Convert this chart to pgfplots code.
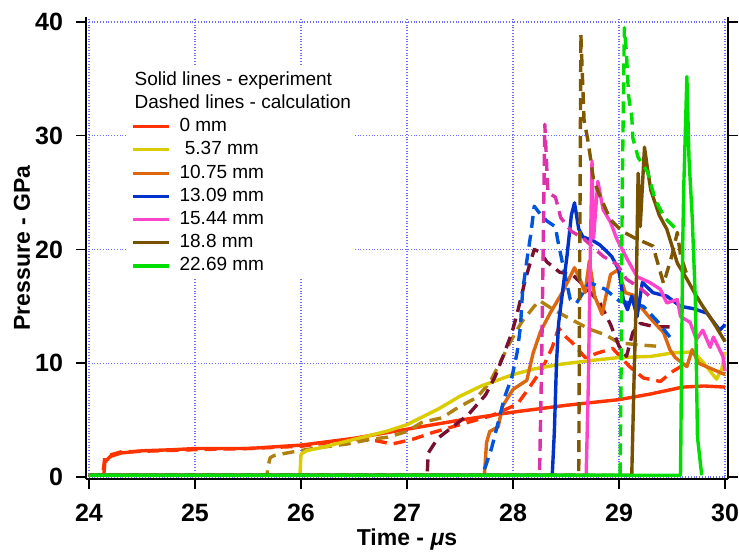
\documentclass[border=0pt]{standalone}
\usepackage{pgfplots}
\pgfplotsset{compat=1.18}
\usepackage{fontspec}
\setmainfont{Liberation Sans}

\definecolor{cRed}{RGB}{255,51,0}
\definecolor{cYel}{RGB}{218,204,0}
\definecolor{cOra}{RGB}{221,102,17}
\definecolor{cBlu}{RGB}{0,51,204}
\definecolor{cPnk}{RGB}{255,68,204}
\definecolor{cBrn}{RGB}{119,80,0}
\definecolor{cGrn}{RGB}{0,221,0}
\definecolor{dOli}{RGB}{176,128,16}
\definecolor{dMar}{RGB}{122,16,48}
\definecolor{dBlu}{RGB}{0,85,221}
\definecolor{dPnk}{RGB}{221,51,170}
\definecolor{dBrn}{RGB}{128,88,0}
\definecolor{gridblue}{RGB}{110,110,255}

\begin{document}
\begin{tikzpicture}
\begin{axis}[
    scale only axis,
    width=321pt, height=231pt,
    xmin=23.972, xmax=30.028,
    ymin=-0.18, ymax=40.44,
    axis x line=bottom, axis y line=box,
    axis line style={black, line width=0.75pt, -},
    xtick={24,25,...,30}, ytick={0,10,...,40},
    tick align=outside, major tick length=5pt,
    tick style={black, line width=0.75pt},
    grid=major,
    major grid style={densely dotted, gridblue, line width=0.6pt},
    /pgf/number format/assume math mode=true,
    tick label style={font=\bfseries\fontsize{12.5}{14}\selectfont},
    xticklabel style={yshift=-4pt},
    yticklabel style={xshift=-3pt},
    every axis y label/.style={at={(axis description cs:0,0.5)}, xshift=-32pt, rotate=90, anchor=center},
    every axis x label/.style={at={(axis description cs:0.5,0)}, yshift=-30.5pt, anchor=center},
    label style={font=\bfseries\fontsize{11.5}{14}\selectfont},
    xlabel={Time - {\itshape μ}s},
    ylabel={Pressure - GPa},
    every axis plot/.append style={line width=1.7pt, line join=round},
    legend image code/.code={\draw[line width=1.6pt] (0pt,0pt) -- (18pt,0pt);},
    legend cell align=left,
    legend style={at={(0.0654,0.892)}, anchor=north west, draw=none, fill=white,
        inner sep=1.5pt, row sep=1.6pt, column sep=4.5pt,
        font=\fontsize{9.5}{11}\selectfont,
        nodes={inner sep=0pt, text height=7.5pt, text depth=2.5pt}},
]
\addlegendimage{empty legend}
\addlegendentry{\hspace{-22.5pt}Solid lines - experiment}
\addlegendimage{empty legend}
\addlegendentry{\hspace{-22.5pt}Dashed lines - calculation}

% 0 mm
\addplot[cRed, forget plot, dash pattern=on 6pt off 3.5pt] coordinates {
(24.0,0.15)(24.13,0.15)(24.15,1.8)(24.3,2.2)(25.0,2.4)(25.5,2.5)(26.0,2.7)(26.5,3.3)
(26.7,3.2)(26.86,2.9)(27.05,3.3)(27.24,3.9)(27.5,4.6)(27.8,5.4)(28.04,6.4)(28.15,7.8)
(28.28,9.6)(28.37,11.4)(28.43,13.1)(28.5,12.3)(28.56,11.8)(28.68,10.5)(28.8,10.9)
(28.94,11.3)(29.1,9.7)(29.23,8.7)(29.39,8.4)(29.51,9.3)(29.6,9.8)};
\addplot[cRed] coordinates {
(24.0,0.15)(24.14,0.15)(24.15,1.3)(24.2,1.8)(24.3,2.1)(24.5,2.3)(24.8,2.4)(25.0,2.5)
(25.5,2.5)(26.0,2.8)(26.5,3.4)(27.0,4.2)(27.5,5.0)(28.0,5.7)(28.5,6.3)(29.0,6.8)
(29.3,7.3)(29.6,7.9)(29.8,8.0)(30.0,7.9)};
\addlegendentry{0 mm}

% 5.37 mm
\addplot[dOli, forget plot, dash pattern=on 6pt off 3.5pt] coordinates {
(24.0,0.15)(25.68,0.15)(25.69,1.0)(25.71,1.7)(25.75,1.9)(25.92,2.2)(26.11,2.5)(26.27,2.7)
(26.44,2.9)(26.65,3.3)(26.82,3.5)(27.0,4.0)(27.14,4.8)(27.33,5.2)(27.48,6.1)(27.66,7.0)
(27.78,8.3)(27.88,10.1)(27.97,11.8)(28.08,13.6)(28.2,15.0)(28.25,15.5)(28.4,14.6)
(28.56,13.8)(28.72,13.0)(28.87,12.5)(29.0,11.8)(29.2,11.6)(29.35,11.5)};
\addplot[cYel] coordinates {
(24.0,0.15)(25.99,0.15)(26.0,2.0)(26.05,2.3)(26.2,2.6)(26.5,3.3)(26.8,4.0)(27.0,4.6)
(27.3,6.0)(27.5,7.1)(27.7,8.0)(28.0,9.0)(28.2,9.5)(28.44,9.9)(28.7,10.2)(29.0,10.5)
(29.3,10.6)(29.5,10.9)(29.7,11.0)(29.8,10.0)(29.92,8.6)(29.97,9.5)(30.0,11.0)};
\addlegendentry{\ 5.37 mm}

% 10.75 mm
\addplot[dMar, forget plot, dash pattern=on 6pt off 3.5pt] coordinates {
(24.0,0.15)(27.19,0.15)(27.2,2.1)(27.29,3.4)(27.43,4.4)(27.58,5.5)(27.74,7.2)(27.83,8.8)
(27.91,10.7)(27.99,12.7)(28.04,14.4)(28.12,17.5)(28.2,20.0)(28.25,19.8)(28.32,18.9)
(28.44,18.0)(28.56,17.8)(28.7,16.5)(28.82,15.3)(28.92,13.4)(29.0,11.5)(29.07,10.6)
(29.13,12.7)(29.2,13.5)(29.34,13.2)(29.51,13.2)};
\addplot[cOra] coordinates {
(24.0,0.15)(27.73,0.15)(27.75,3.0)(27.78,4.0)(27.86,4.4)(27.9,6.2)(28.0,7.7)(28.13,8.5)
(28.19,10.9)(28.26,12.8)(28.35,14.4)(28.47,16.3)(28.58,18.4)(28.63,17.4)(28.68,16.2)
(28.72,19.0)(28.77,15.9)(28.84,14.3)(28.92,17.8)(28.99,18.2)(29.06,16.2)(29.13,16.0)
(29.2,15.0)(29.29,14.0)(29.42,12.7)(29.48,11.2)(29.53,10.5)(29.64,9.7)(29.69,11.2)
(29.75,10.0)(29.85,9.6)(30.0,9.0)};
\addlegendentry{10.75 mm}

% 13.09 mm
\addplot[dBlu, forget plot, dash pattern=on 6pt off 3.5pt] coordinates {
(24.0,0.15)(27.7,0.15)(27.74,0.9)(27.8,2.6)(27.86,4.8)(27.92,7.0)(27.99,8.8)(28.04,11.0)
(28.07,13.2)(28.09,16.3)(28.13,19.0)(28.17,21.5)(28.2,23.8)(28.25,23.2)(28.32,22.5)
(28.4,22.0)(28.42,20.9)(28.46,19.1)(28.54,15.6)(28.6,15.3)(28.72,17.1)(28.87,16.5)
(29.0,15.5)(29.23,15.0)(29.37,13.6)(29.48,12.3)};
\addplot[cBlu] coordinates {
(24.0,0.15)(28.37,0.15)(28.39,4.0)(28.41,10.0)(28.43,13.5)(28.47,16.5)(28.51,19.5)
(28.55,23.0)(28.58,24.1)(28.62,21.8)(28.66,21.1)(28.75,20.8)(28.82,20.4)(28.93,19.4)
(29.0,18.2)(29.04,15.6)(29.08,14.7)(29.12,15.9)(29.17,14.1)(29.22,17.1)(29.32,16.2)
(29.45,15.9)(29.58,15.0)(29.7,14.8)(29.83,14.4)(29.95,12.9)(30.0,13.4)};
\addlegendentry{13.09 mm}

% 15.44 mm
\addplot[dPnk, forget plot, dash pattern=on 6pt off 3.5pt] coordinates {
(24.0,0.15)(28.25,0.15)(28.27,10.0)(28.3,31.0)(28.32,26.9)(28.33,25.0)(28.4,24.6)
(28.45,22.8)(28.55,21.6)(28.66,21.0)(28.85,19.4)(28.98,18.7)(29.07,17.4)(29.2,16.6)
(29.3,15.8)};
\addplot[cPnk] coordinates {
(24.0,0.15)(28.69,0.15)(28.71,8.0)(28.73,20.0)(28.745,27.8)(28.76,21.0)(28.8,26.0)
(28.85,23.5)(28.92,22.4)(28.98,20.9)(29.08,19.1)(29.17,17.6)(29.29,17.1)(29.39,16.5)
(29.45,15.3)(29.55,15.6)(29.58,14.1)(29.67,13.6)(29.73,12.1)(29.79,12.9)(29.86,11.4)
(29.89,12.3)(29.98,10.6)(30.0,9.3)};
\addlegendentry{15.44 mm}

% 18.8 mm
\addplot[dBrn, forget plot, dash pattern=on 6pt off 3.5pt] coordinates {
(24.0,0.15)(28.62,0.15)(28.63,20.0)(28.64,38.9)(28.67,31.4)(28.71,29.4)(28.76,26.1)
(28.82,24.7)(28.92,22.6)(29.03,21.6)(29.15,21.0)(29.32,20.3)(29.42,17.0)(29.5,19.5)
(29.55,21.5)(29.58,19.5)(29.65,17.5)};
\addplot[cBrn] coordinates {
(24.0,0.15)(29.12,0.15)(29.14,8.0)(29.16,15.0)(29.18,26.7)(29.2,22.0)(29.24,29.0)
(29.27,27.0)(29.3,25.2)(29.38,23.0)(29.45,21.8)(29.55,18.8)(29.64,17.4)(29.73,15.9)
(29.79,15.0)(29.89,13.6)(30.0,11.9)};
\addlegendentry{18.8 mm}

% 22.69 mm
\addplot[cGrn, forget plot, dash pattern=on 6pt off 3.5pt] coordinates {
(24.0,0.15)(29.01,0.15)(29.02,10.0)(29.03,25.0)(29.05,39.5)(29.07,37.3)(29.08,35.4)
(29.09,33.5)(29.12,31.7)(29.13,29.8)(29.18,28.1)(29.27,26.8)(29.34,24.4)(29.43,22.8)
(29.55,21.7)};
\addplot[cGrn] coordinates {
(24.0,0.15)(29.58,0.15)(29.6,20.0)(29.61,25.3)(29.64,35.2)(29.66,28.0)(29.69,22.9)
(29.72,15.6)(29.74,3.5)(29.78,0.15)};
\addlegendentry{22.69 mm}

\coordinate (bl) at (rel axis cs:0,0);
\coordinate (tr) at (rel axis cs:1,1);
\end{axis}
\pgfresetboundingbox
\path[use as bounding box] ([shift={(-43pt,-38.5pt)}]bl) rectangle ([shift={(5.5pt,8.5pt)}]tr);
\end{tikzpicture}
\end{document}
